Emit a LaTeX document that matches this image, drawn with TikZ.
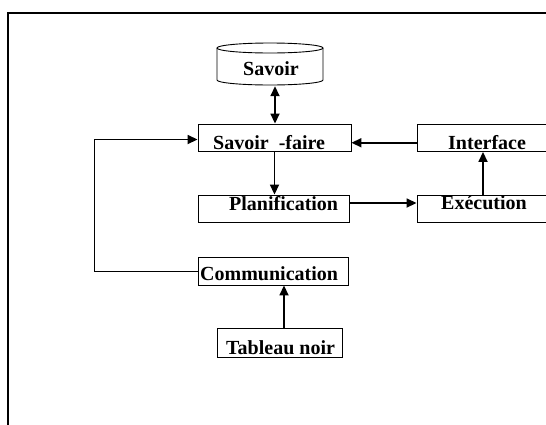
\documentclass[tikz,border=0pt]{standalone}
\usepackage{fontspec}
\setmainfont{Liberation Serif}
\usetikzlibrary{arrows.meta}
\begin{document}
\begin{tikzpicture}[x=1pt,y=-1pt,
  box/.style={draw,line width=0.9pt,inner sep=0pt},
  lbl/.style={inner sep=0pt,anchor=base west,font=\bfseries\fontsize{20}{24}\selectfont},
  conn/.style={line width=1.7pt,-{Triangle[length=10pt,width=9pt]}},
  dconn/.style={line width=1.7pt,{Triangle[length=10pt,width=9pt]}-{Triangle[length=10pt,width=9pt]}},
  thin/.style={line width=1pt},
  frame/.style={line width=2.5pt}]
\useasboundingbox (0,0) rectangle (546,424);

% outer frame (top and left edges)
\draw[frame] (560,13) -- (8,13) -- (8,440);

% knowledge store drawn as a cylinder
\node[inner sep=0pt,minimum width=106pt,minimum height=43pt] (sav) at (270,64.5) {};
\draw[line width=0.9pt] (217,48) -- (217,80) arc[start angle=180,end angle=0,x radius=53,y radius=5] -- (323,48);
\draw[line width=0.9pt] (270,48) ellipse[x radius=53,y radius=5];
\node[lbl] (savt) at (243,75) {Savoir};

% boxes
\node[box,minimum width=153pt,minimum height=27.5pt] (sf)  at (274.5,137.75) {};
\node[box,minimum width=148pt,minimum height=27.5pt] (int) at (491,137.75) {};
\node[box,minimum width=151pt,minimum height=27pt]   (pla) at (273.5,208.5) {};
\node[box,minimum width=148pt,minimum height=27pt]   (exe) at (491,208.5) {};
\node[box,minimum width=150pt,minimum height=28pt]   (com) at (273,271) {};
\node[box,minimum width=125pt,minimum height=29pt]   (tab) at (279.5,342.5) {};

% box texts
\node[lbl] (sft)  at (213,149.3) {Savoir~~-faire};
\node[lbl] (intt) at (448,149.3) {Interface};
\node[lbl] (plat) at (229,210.5) {Planification};
\node[lbl] (exet) at (441,209) {Exécution};
\node[lbl] (comt) at (200,280) {Communication};
\node[lbl] (tabt) at (226,354.5) {Tableau noir};

% connectors
\draw[dconn] ([xshift=5pt]sav.south) -- ([xshift=5pt]sav.south |- sf.north);
\draw[conn] (sf.south) -- (sf.south |- pla.north);
\draw[conn] ([yshift=-5pt]int.west) -- ([yshift=-5pt]int.west -| sf.east);
\draw[conn] ([yshift=5.5pt]pla.east) -- ([yshift=5.5pt]pla.east -| exe.west);
\draw[conn] ([xshift=-8pt]exe.north) -- ([xshift=-8pt]exe.north |- int.south);
\draw[conn] ([xshift=4.5pt]tab.north) -- ([xshift=4.5pt]tab.north |- com.south);

% feedback loop from Communication back to Savoir-faire
\coordinate (lp) at (94,271);
\coordinate (lq) at (94,139.5);
\draw[thin] (com.west) -- (lp) -- (lq);
\draw[conn] (lq) -- (lq -| sf.west);
\end{tikzpicture}
\end{document}
